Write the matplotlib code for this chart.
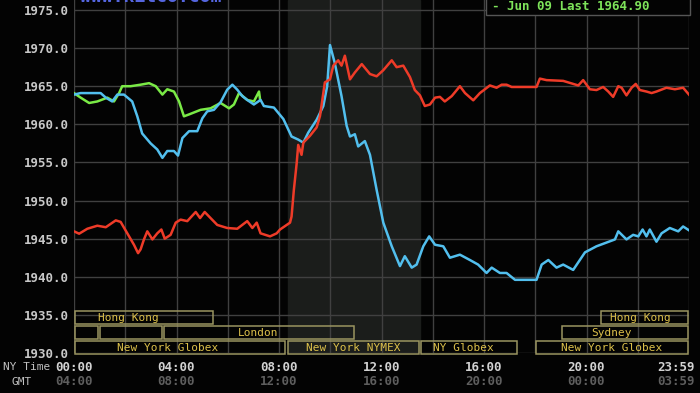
import matplotlib
matplotlib.use('Agg')
import matplotlib.pyplot as plt
from matplotlib.patches import Rectangle

# today (red)
red_t = [0.00, 0.20, 0.52, 0.91, 1.24, 1.63, 1.82, 2.08, 2.34, 2.50, 2.60, 2.73, 2.86, 3.06, 3.25, 3.41, 3.54, 3.77,
         3.97, 4.16, 4.42, 4.75, 4.92, 5.10, 5.33, 5.59, 5.98, 6.37, 6.76, 6.96, 7.13, 7.28, 7.65, 7.91, 8.04, 8.43,
         8.49, 8.58, 8.69, 8.75, 8.88, 8.95, 9.21, 9.47, 9.60, 9.79, 9.99, 10.12, 10.31, 10.44, 10.57, 10.77, 10.96,
         11.23, 11.55, 11.81, 12.07, 12.40, 12.59, 12.85, 13.11, 13.30, 13.50, 13.69, 13.89, 14.09, 14.28, 14.47,
         14.74, 15.06, 15.26, 15.58, 15.84, 16.23, 16.49, 16.69, 16.88, 17.08, 18.05, 18.18, 18.44, 19.09, 19.68,
         19.87, 20.13, 20.39, 20.65, 20.85, 21.04, 21.24, 21.37, 21.56, 21.76, 21.92, 22.08, 22.34, 22.54, 22.73,
         23.12, 23.45, 23.77, 24.00]
red_v = [1945.96, 1945.65, 1946.3, 1946.7, 1946.5, 1947.4, 1947.2, 1945.7, 1944.2, 1943.1, 1943.6, 1944.9, 1945.96,
         1944.9, 1945.7, 1946.2, 1945.0, 1945.5, 1947.1, 1947.5, 1947.3, 1948.5, 1947.7, 1948.5, 1947.7, 1946.8,
         1946.4, 1946.3, 1947.3, 1946.4, 1947.1, 1945.7, 1945.3, 1945.7, 1946.2, 1947.1, 1947.9, 1951.4, 1954.9,
         1957.3, 1956.0, 1957.6, 1958.5, 1959.6, 1961.1, 1965.5, 1965.9, 1967.7, 1968.4, 1967.7, 1969.0, 1965.9,
         1966.8, 1967.9, 1966.6, 1966.3, 1967.1, 1968.4, 1967.5, 1967.7, 1966.2, 1964.5, 1963.8, 1962.4, 1962.6,
         1963.5, 1963.6, 1963.0, 1963.7, 1965.0, 1964.1, 1963.15, 1964.1, 1965.1, 1964.8, 1965.2, 1965.2, 1964.9,
         1964.9, 1966.0, 1965.8, 1965.7, 1965.1, 1965.8, 1964.6, 1964.5, 1964.9, 1964.3, 1963.6, 1965.0, 1964.8,
         1963.8, 1964.8, 1965.3, 1964.5, 1964.3, 1964.1, 1964.3, 1964.8, 1964.6, 1964.8, 1963.9]

# yesterday (blue)
blue_t = [0.00, 0.26, 0.65, 1.04, 1.24, 1.49, 1.69, 1.95, 2.27, 2.47, 2.66, 2.99, 3.25, 3.45, 3.64, 3.90, 4.06,
          4.23, 4.49, 4.81, 5.01, 5.20, 5.46, 5.72, 5.98, 6.18, 6.37, 6.57, 6.76, 7.02, 7.28, 7.41, 7.80, 8.17,
          8.49, 8.75, 8.95, 9.14, 9.47, 9.73, 9.88, 9.99, 10.18, 10.44, 10.64, 10.77, 10.96, 11.09, 11.35, 11.55,
          11.81, 12.07, 12.40, 12.72, 12.91, 13.18, 13.37, 13.63, 13.86, 14.09, 14.41, 14.67, 15.06, 15.45, 15.77,
          16.10, 16.30, 16.62, 16.88, 17.21, 18.05, 18.25, 18.51, 18.83, 19.09, 19.48, 19.94, 20.39, 21.11, 21.24,
          21.56, 21.82, 22.02, 22.19, 22.34, 22.47, 22.73, 22.93, 23.25, 23.58, 23.77, 24.00]
blue_v = [1963.9, 1964.1, 1964.1, 1964.1, 1963.5, 1963.0, 1963.9, 1963.9, 1963.0, 1961.05, 1958.8, 1957.5, 1956.7,
          1955.6, 1956.5, 1956.5, 1955.9, 1958.2, 1959.1, 1959.1, 1960.8, 1961.7, 1961.9, 1962.9, 1964.55, 1965.2,
          1964.55, 1963.7, 1963.2, 1962.6, 1963.2, 1962.4, 1962.2, 1960.7, 1958.4, 1958.0, 1957.6, 1958.9, 1960.6,
          1962.4, 1965.0, 1970.4, 1968.0, 1963.7, 1959.8, 1958.4, 1958.7, 1957.1, 1957.8, 1956.0, 1951.4, 1947.1,
          1944.0, 1941.4, 1942.7, 1941.2, 1941.6, 1944.0, 1945.3, 1944.2, 1944.0, 1942.5, 1942.9, 1942.2, 1941.6,
          1940.5, 1941.2, 1940.5, 1940.5, 1939.6, 1939.6, 1941.6, 1942.2, 1941.2, 1941.6, 1940.9, 1943.2, 1944.0,
          1944.9, 1945.96, 1944.9, 1945.5, 1945.3, 1946.2, 1945.3, 1946.2, 1944.6, 1945.7, 1946.4, 1945.96, 1946.6,
          1946.1]

# two days ago (green, partial)
green_t = [0.00, 0.26, 0.59, 0.91, 1.30, 1.56, 1.76, 1.88, 2.21, 2.60, 2.93, 3.19, 3.45, 3.64, 3.90, 4.10, 4.29,
           4.49, 4.94, 5.33, 5.72, 6.05, 6.24, 6.44, 6.76, 7.02, 7.22, 7.26]
green_v = [1964.1, 1963.5, 1962.8, 1963.0, 1963.5, 1963.0, 1964.1, 1965.0, 1965.0, 1965.2, 1965.4, 1965.0, 1963.9,
           1964.6, 1964.3, 1963.0, 1961.05, 1961.3, 1961.9, 1962.1, 1962.8, 1962.1, 1962.6, 1964.1, 1963.2, 1963.0,
           1964.3, 1963.3]

y_ticks = [1930, 1935, 1940, 1945, 1950, 1955, 1960, 1965, 1970, 1975]
ny_hours = [0, 4, 8, 12, 16, 20, 23.5]
ny_labels = ['00:00', '04:00', '08:00', '12:00', '16:00', '20:00', '23:59']
gmt_labels = ['04:00', '08:00', '12:00', '16:00', '20:00', '00:00', '03:59']

sess_row = [0, 0, 1, 1, 1, 1, 2, 2, 2, 2]
sess_start = [0, 20.52, 0, 0.98, 3.47, 19.0, 0, 8.33, 13.5, 18.0]
sess_end = [5.46, 24, 0.98, 3.47, 10.96, 24, 8.27, 13.5, 17.32, 24]
sess_name = ['Hong Kong', 'Hong Kong', '', '', 'London', 'Sydney',
             'New York Globex', 'New York NYMEX', 'NY Globex', 'New York Globex']
sess_label_x = [2.14, 22.1, 0, 0, 7.17, 20.99, 3.67, 10.9, 15.2, 20.99]

mono = 'DejaVu Sans Mono'
bg = '#030303'

fig = plt.figure(figsize=(7, 3.93), dpi=100, facecolor=bg)
ax = fig.add_axes([74 / 700, 40 / 393, 615 / 700, 353 / 393])
ax.set_facecolor(bg)
ax.set_xlim(0, 24)
ax.set_ylim(1930, 1976.31)

ax.axvspan(8.333, 13.5, color='#1b1d1b', zorder=0)
for h in range(0, 25, 2):
    ax.axvline(h, color='#404040', lw=1, zorder=1)
for v in y_ticks:
    ax.axhline(v, color='#404040', lw=1, zorder=1)

ax.plot(green_t, green_v, color='#7aea46', lw=1.8, zorder=3)
ax.plot(blue_t, blue_v, color='#52bfee', lw=1.8, zorder=3)
ax.plot(red_t, red_v, color='#ee3b28', lw=1.8, zorder=4)

row_top = [1935.45, 1933.5, 1931.55]
for r, s, e, name, lx in zip(sess_row, sess_start, sess_end, sess_name, sess_label_x):
    ax.add_patch(Rectangle((s + 0.03, row_top[r] - 1.7), e - s - 0.06, 1.7, fill=False,
                           edgecolor='#9a9460', lw=1.1, zorder=5, clip_on=False))
    if name:
        ax.text(lx, row_top[r] - 0.85, name, color='#dcc04a', fontsize=8, family=mono,
                ha='center', va='center', zorder=6)

for sp in ax.spines.values():
    sp.set_visible(False)
ax.set_xticks([])
ax.set_yticks(y_ticks)
ax.set_yticklabels(['%.1f' % v for v in y_ticks], family=mono, fontweight='bold',
                   fontsize=9, color='#c8c8c8')
ax.tick_params(axis='y', length=0, pad=4)

tr = ax.get_xaxis_transform()
for h, a, b in zip(ny_hours, ny_labels, gmt_labels):
    ax.text(h, -0.04, a, transform=tr, color='#d2d2d2', family=mono, fontweight='bold',
            fontsize=9, ha='center', va='center', clip_on=False)
    ax.text(h, -0.082, b, transform=tr, color='#5e5e5e', family=mono, fontweight='bold',
            fontsize=9, ha='center', va='center', clip_on=False)
fig.text(3 / 700, 1 - 367 / 393, 'NY Time', color='#c0c0c0', family=mono, fontsize=8,
         ha='left', va='center')
fig.text(12 / 700, 1 - 382 / 393, 'GMT', color='#c0c0c0', family=mono, fontsize=8,
         ha='left', va='center')

# site name cut off at top, and last-price box
fig.text(80 / 700, 1 - 2 / 393, 'www.kitco.com', color='#5566e0', family=mono, fontweight='bold',
         fontsize=13, ha='left', va='baseline')
fig.patches.append(Rectangle((486 / 700, 1 - 15 / 393), 204 / 700, 20 / 393, transform=fig.transFigure,
                             facecolor=bg, edgecolor='#555555', lw=1, zorder=10))
fig.text(492 / 700, 1 - 6 / 393, '- Jun 09 Last 1964.90', color='#7ee45a', family=mono,
         fontweight='bold', fontsize=9, ha='left', va='center', zorder=11)

fig.savefig('out.png', dpi=100, facecolor=bg)
